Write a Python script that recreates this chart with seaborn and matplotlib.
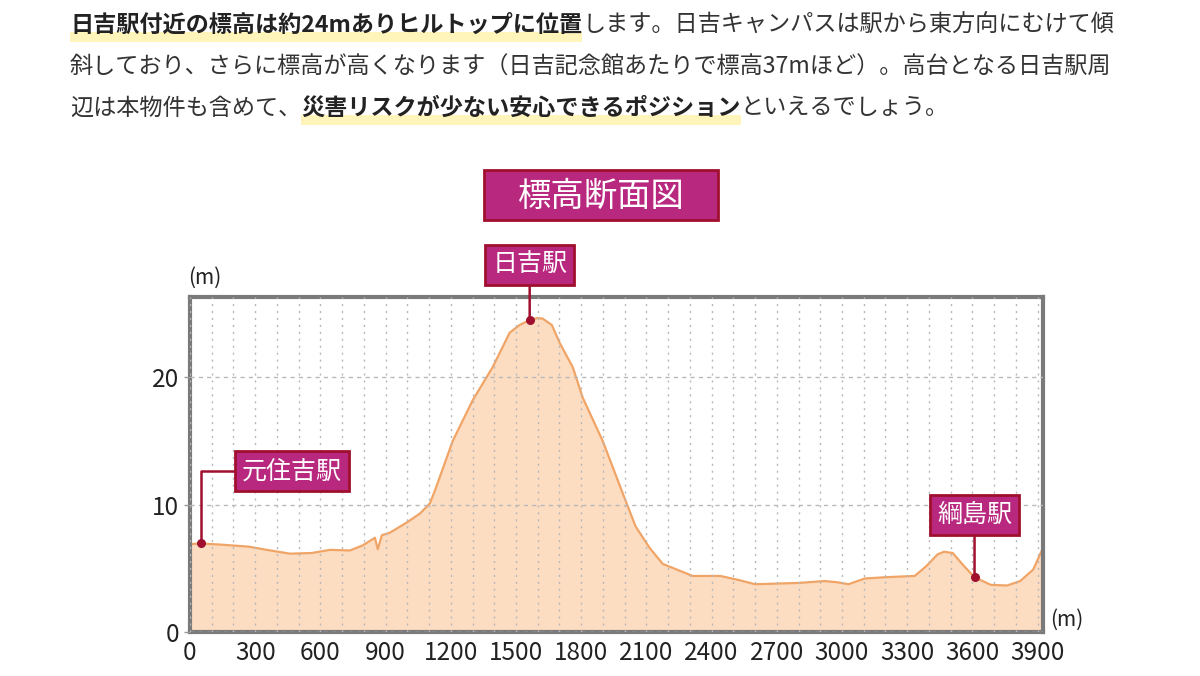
import numpy as np
import matplotlib
matplotlib.use("Agg")
import matplotlib.pyplot as plt
from matplotlib.patches import Rectangle
import seaborn as sns

# elevation profile, 元住吉 -> 日吉 -> 綱島
dist_m = [0, 50, 150, 270, 370, 460, 560, 644, 736, 795, 851, 864, 883, 920,
          998, 1058, 1104, 1127, 1209, 1301, 1393, 1471, 1517, 1563, 1600,
          1623, 1665, 1701, 1761, 1807, 1899, 1991, 2050, 2115, 2175, 2240,
          2313, 2440, 2520, 2600, 2700, 2800, 2920, 2980, 3030, 3105, 3200,
          3335, 3390, 3440, 3470, 3510, 3560, 3610, 3685, 3760, 3820, 3880, 3925]
elev_m = [6.9, 6.95, 6.85, 6.7, 6.4, 6.15, 6.2, 6.45, 6.4, 6.8, 7.4, 6.5, 7.6, 7.8,
          8.6, 9.3, 10.1, 11.1, 15.0, 18.2, 20.8, 23.5, 24.1, 24.5, 24.65,
          24.6, 24.1, 22.7, 20.8, 18.4, 15.0, 10.9, 8.3, 6.6, 5.35, 4.9,
          4.4, 4.4, 4.1, 3.75, 3.8, 3.85, 4.0, 3.9, 3.75, 4.2, 4.3,
          4.4, 5.2, 6.1, 6.3, 6.2, 5.2, 4.3, 3.7, 3.65, 4.0, 4.9, 6.6]

stations = ["元住吉駅", "日吉駅", "綱島駅"]
station_dist = [50, 1563, 3610]
station_elev = [6.95, 24.5, 4.3]
label_offset_px = [(91, 72), (0, 55), (0, 62)]

x_ticks = list(range(0, 4000, 300))
y_ticks = [0, 10, 20]

chart_title = "標高断面図"
para_lines = [
    [("日吉駅付近の標高は約24mありヒルトップに位置", True),
     ("します。日吉キャンパスは駅から東方向にむけて傾", False)],
    [("斜しており、さらに標高が高くなります（日吉記念館あたりで標高37mほど）。高台となる日吉駅周", False)],
    [("辺は本物件も含めて、", False),
     ("災害リスクが少ない安心できるポジション", True),
     ("といえるでしょう。", False)],
]

W, H = 1200, 676
MAGENTA = "#B8287F"
DARKRED = "#A0102E"
FILL = "#FDDDC2"
LINE = "#F0A466"

sns.set_theme(style="white")
plt.rcParams["font.family"] = ["Noto Sans CJK JP", "DejaVu Sans"]

fig = plt.figure(figsize=(12, 6.76), dpi=100)
ax = fig.add_axes([190 / W, 1 - 632 / H, (1043 - 190) / W, (632 - 297) / H])

ax.fill_between(dist_m, elev_m, 0, color=FILL, lw=0, zorder=1)
sns.lineplot(x=dist_m, y=elev_m, ax=ax, color=LINE, lw=1.6, zorder=2)

ax.set_xlim(0, 3925)
ax.set_ylim(0, 26.3)
ax.set_xticks(x_ticks)
ax.set_xticks(range(0, 3925, 100), minor=True)
ax.set_yticks(y_ticks)
ax.set_axisbelow(False)
ax.grid(axis="x", which="both", color="#b8b8b8", lw=1, ls=(0, (1.5, 3.5)), zorder=3)
ax.grid(axis="y", which="major", color="#b8b8b8", lw=1, ls=(0, (3, 3)), zorder=3)
ax.tick_params(axis="x", which="both", length=0, pad=6, labelsize=17.5, labelcolor="#222")
ax.tick_params(axis="y", length=4, width=1, color="#999", pad=4, labelsize=17.5, labelcolor="#222")
ax.tick_params(axis="y", left=True)
for s in ax.spines.values():
    s.set_color("#7a7a7a")
    s.set_linewidth(3)
ax.set_xlabel("")
ax.set_ylabel("")

fig.text(205 / W, 1 - 278 / H, "(m)", ha="center", va="center", fontsize=15, color="#222")
fig.text(1067 / W, 1 - 620 / H, "(m)", ha="center", va="center", fontsize=15, color="#222")

# station markers + labels
box = dict(boxstyle="square,pad=0.28", fc=MAGENTA, ec=DARKRED, lw=2)
for name, d, e, off in zip(stations, station_dist, station_elev, label_offset_px):
    ax.scatter([d], [e], s=30, color=DARKRED, zorder=5, clip_on=False)
    conn = "angle,angleA=0,angleB=90,rad=0" if off[0] else "arc3"
    ax.annotate(name, xy=(d, e), xytext=off, textcoords="offset pixels",
                ha="center", va="center", fontsize=18, color="white",
                bbox=box, annotation_clip=False, zorder=6,
                arrowprops=dict(arrowstyle="-", color=DARKRED, lw=1.8,
                                connectionstyle=conn, shrinkA=0, shrinkB=0))

# chart title box
fig.patches.append(Rectangle((484 / W, 1 - 220 / H), 234 / W, 50 / H,
                             transform=fig.transFigure, fc=MAGENTA, ec=DARKRED, lw=2))
fig.text(601 / W, 1 - 196 / H, chart_title, ha="center", va="center",
         fontsize=24, color="white")

# paragraph with highlighted bold runs
renderer = fig.canvas.get_renderer()
line_y = [25, 67, 108]
for runs, yc in zip(para_lines, line_y):
    x = 70
    for txt, bold in runs:
        t = fig.text(x / W, 1 - yc / H, txt, ha="left", va="center", fontsize=16.7,
                     fontweight="bold" if bold else "normal",
                     color="#222" if bold else "#333", zorder=3)
        bb = t.get_window_extent(renderer)
        if bold:
            fig.patches.append(Rectangle((bb.x0 / W, 1 - (yc + 17) / H), bb.width / W, 10 / H,
                                         transform=fig.transFigure, fc="#FFF4BA",
                                         ec="none", zorder=1))
        x += bb.width

fig.savefig("out.png", dpi=100)
